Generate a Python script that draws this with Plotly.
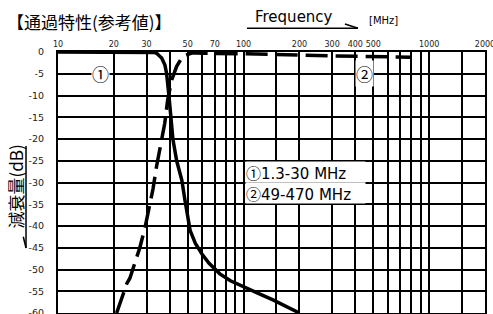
import math
import plotly.graph_objects as go

# ---- data ----
freq_1 = [10, 30, 33, 34, 36.2, 37.7, 38.5, 39.6, 40.4, 41.6, 43.6, 46.5, 48.3, 51.5, 55, 59.8, 65, 74.5, 85, 99.6, 120, 144, 170, 200]
att_1 = [0, 0, -0.1, -0.3, -1.4, -3, -5, -10, -15, -20, -25, -29.5, -34, -41, -44, -46.5, -48.5, -51, -52.6, -54, -55.5, -57, -58.5, -60]

freq_2 = [20.7, 23.5, 24.4, 26.5, 27.6, 29.5, 30.6, 32.5, 34, 36.2, 37.6, 39, 41, 43.6, 47, 53, 60, 100, 150, 200, 300, 500, 800]
att_2 = [-60, -53.2, -52, -47.5, -45, -40.2, -37.2, -31.5, -26.2, -20.2, -16.4, -11, -6.4, -3.3, -1, -0.2, -0.3, -0.4, -0.5, -0.7, -0.9, -1.0, -1.2]

x_grid = [10, 20, 30, 40, 50, 60, 70, 80, 90, 100, 150, 200, 300, 400, 500, 600, 700, 800, 900, 1000, 1500, 2000]
x_labels = ["10", "20", "30", "", "50", "", "70", "", "", "100", "", "200", "300", "400", "500", "", "", "", "", "1000", "", "2000"]
y_grid = [0, -5, -10, -15, -20, -25, -30, -35, -40, -45, -50, -55, -60]
y_labels = [str(v) for v in y_grid]

legend_lines = ["①1.3-30 MHz", "②49-470 MHz"]

FONT = "DejaVu Sans, Noto Sans CJK JP"
CJK = "Noto Sans CJK JP, DejaVu Sans"


def circ(txt):
    # put the circled digit in a CJK font so it is full size
    return '<span style="font-family:Noto Sans CJK JP">' + txt[0] + '</span>' + txt[1:]


fig = go.Figure()
fig.add_trace(go.Scatter(x=freq_1, y=att_1, mode="lines",
                         line=dict(color="black", width=3.5), showlegend=False))
fig.add_trace(go.Scatter(x=freq_2, y=att_2, mode="lines",
                         line=dict(color="black", width=3.5, dash="22px,8px"), showlegend=False))

fig.update_layout(
    width=493, height=314,
    margin=dict(l=58, r=8, t=52, b=1, autoexpand=False),
    paper_bgcolor="white", plot_bgcolor="white",
    font=dict(family=FONT, color="black"),
    xaxis=dict(type="log", side="top", range=[1, math.log10(2000)],
               tickmode="array", tickvals=x_grid, ticktext=x_labels,
               showgrid=True, gridcolor="black", gridwidth=2,
               showline=True, linecolor="black", linewidth=2, mirror=True,
               ticks="", tickfont=dict(size=8, color="#222"), zeroline=False,
               automargin=False, ticklabeloverflow="allow"),
    yaxis=dict(range=[-60, 0], tickmode="array", tickvals=y_grid, ticktext=y_labels,
               showgrid=True, gridcolor="black", gridwidth=2,
               showline=True, linecolor="black", linewidth=2, mirror=True,
               ticks="", ticklabelstandoff=10, tickfont=dict(size=9.5, color="#222"),
               zeroline=False, automargin=False, ticklabeloverflow="allow"),
)

anns = []
# circled markers on the curves
anns.append(dict(x=math.log10(17), y=-5, xref="x", yref="y", text="①", showarrow=False,
                 font=dict(size=17, family=CJK), bgcolor="white", borderpad=0))
anns.append(dict(x=math.log10(450), y=-5, xref="x", yref="y", text="②", showarrow=False,
                 font=dict(size=17, family=CJK), bgcolor="white", borderpad=0))
# legend text box (two rows)
for txt, yv in zip(legend_lines, [-27.55, -32.5]):
    anns.append(dict(x=0.438, y=yv, xref="paper", yref="y", text=circ(txt), showarrow=False,
                     xanchor="left", yanchor="middle", align="left", width=119, height=20,
                     font=dict(size=15, family=FONT), bgcolor="white", borderpad=0))
# titles
anns.append(dict(x=-0.124, y=1.115, xref="paper", yref="paper", text="【通過特性(参考値)】",
                 showarrow=False, xanchor="left", yanchor="middle", font=dict(size=17, family=CJK)))
anns.append(dict(x=0.457, y=1.134, xref="paper", yref="paper", text="Frequency",
                 showarrow=False, xanchor="left", yanchor="middle", font=dict(size=15, family=FONT)))
anns.append(dict(x=0.724, y=1.119, xref="paper", yref="paper", text="[MHz]",
                 showarrow=False, xanchor="left", yanchor="middle", font=dict(size=10, family=FONT)))
anns.append(dict(x=-0.1007, y=0.4847, xref="paper", yref="paper", text="減衰量(dB)",
                 textangle=-90, showarrow=False, xanchor="center", yanchor="middle",
                 font=dict(size=17, family=CJK)))
fig.update_layout(annotations=anns)

shapes = [
    dict(type="line", xref="paper", yref="paper", x0=0.4426, x1=0.7026, y0=1.0908, y1=1.0908,
         line=dict(color="black", width=1.5)),
    dict(type="line", xref="paper", yref="paper", x0=0.672, x1=0.7026, y0=1.1073, y1=1.0908,
         line=dict(color="black", width=1.5)),
    dict(type="line", xref="paper", yref="paper", x0=-0.0749, x1=-0.0749, y0=0.6398, y1=0.249,
         line=dict(color="black", width=1.5)),
    dict(type="line", xref="paper", yref="paper", x0=-0.0813, x1=-0.0749, y0=0.2923, y1=0.249,
         line=dict(color="black", width=1.5)),
]
fig.update_layout(shapes=shapes)

fig.write_html("out.html", config={"displayModeBar": False},
               post_script="document.body.style.margin='0';document.body.style.overflow='hidden';")
